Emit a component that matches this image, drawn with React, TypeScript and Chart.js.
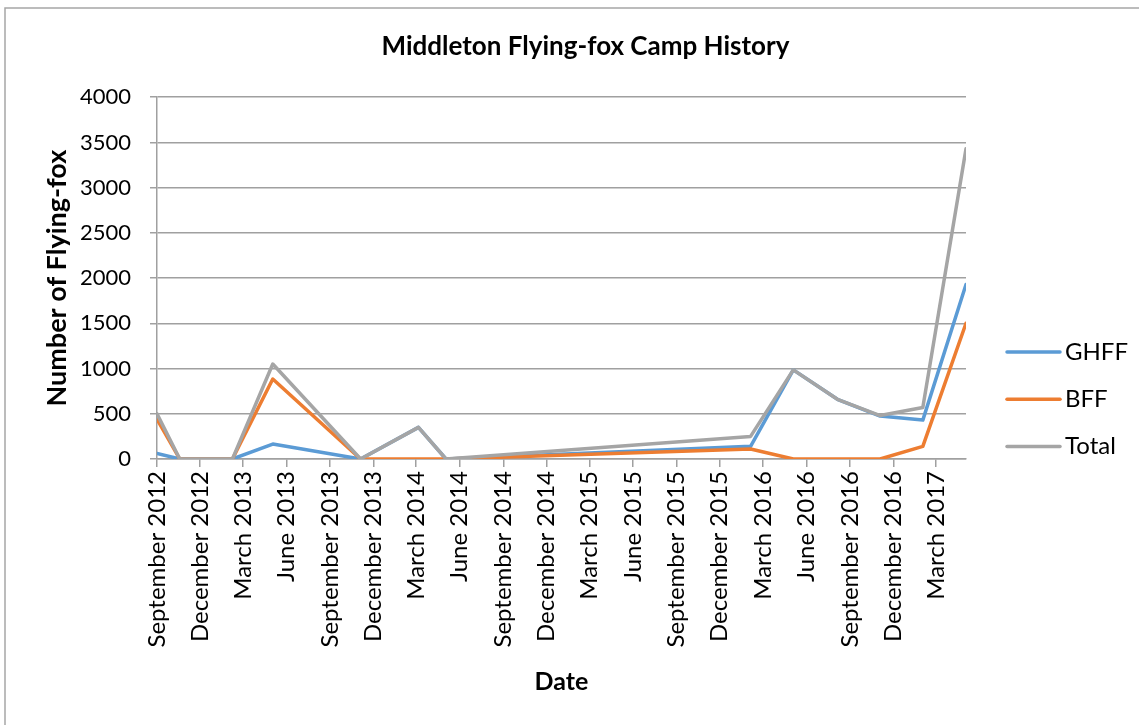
import React, { useEffect, useRef } from "react";
import { Chart, registerables } from "chart.js";

Chart.register(...registerables);

const sampleDates = [
  "2012-09-01", "2012-10-19", "2013-02-07", "2013-05-03", "2013-11-04",
  "2014-03-06", "2014-05-03", "2016-02-04", "2016-05-04", "2016-08-05",
  "2016-11-03", "2017-02-01", "2017-05-03",
];
const ghff = [60, 0, 0, 165, 0, 350, 0, 140, 985, 660, 475, 430, 1930];
const bff = [440, 0, 0, 885, 0, 0, 0, 110, 0, 0, 0, 140, 1500];
const total = [500, 0, 0, 1050, 0, 350, 0, 250, 985, 660, 480, 570, 3430];

const tickDates = [
  "2012-09-01", "2012-12-01", "2013-03-01", "2013-06-01", "2013-09-01",
  "2013-12-01", "2014-03-01", "2014-06-01", "2014-09-01", "2014-12-01",
  "2015-03-01", "2015-06-01", "2015-09-01", "2015-12-01", "2016-03-01",
  "2016-06-01", "2016-09-01", "2016-12-01", "2017-03-01",
];
const tickLabels = [
  "September 2012", "December 2012", "March 2013", "June 2013", "September 2013",
  "December 2013", "March 2014", "June 2014", "September 2014", "December 2014",
  "March 2015", "June 2015", "September 2015", "December 2015", "March 2016",
  "June 2016", "September 2016", "December 2016", "March 2017",
];

const DAY = 86400000;
const origin = Date.UTC(2012, 8, 1);
const toDay = (s: string) => {
  const [y, m, d] = s.split("-").map(Number);
  return Math.round((Date.UTC(y, m - 1, d) - origin) / DAY);
};
const xs = sampleDates.map(toDay);
const tickXs = tickDates.map(toDay);

const FONT = "Lato, 'Open Sans', sans-serif";
const GRID = "#a0a0a0";

export default function App() {
  const ref = useRef<HTMLCanvasElement>(null);
  useEffect(() => {
    if (!ref.current) return;
    const mk = (vals: number[]) => vals.map((v, i) => ({ x: xs[i], y: v }));
    const borderPlugin = {
      id: "outerBorder",
      beforeDraw(chart: any) {
        const c = chart.ctx;
        c.save();
        c.fillStyle = "#ffffff";
        c.fillRect(0, 0, chart.width, chart.height);
        c.strokeStyle = "#a6a6a6";
        c.lineWidth = 1.5;
        c.beginPath();
        c.moveTo(5, chart.height + 5);
        c.lineTo(5, 8);
        c.lineTo(chart.width + 5, 8);
        c.stroke();
        c.restore();
      },
    };
    const legendPlugin = {
      id: "sideLegend",
      afterDraw(chart: any) {
        const c = chart.ctx;
        const area = chart.chartArea;
        const ds = chart.data.datasets;
        const gap = 47.3;
        const midY = 399.3;
        c.save();
        c.font = `24px ${FONT}`;
        c.textBaseline = "middle";
        c.textAlign = "left";
        ds.forEach((d: any, i: number) => {
          const y = midY + (i - (ds.length - 1) / 2) * gap;
          const x0 = area.right + 41;
          c.strokeStyle = d.borderColor;
          c.lineWidth = 3.5;
          c.lineCap = "round";
          c.beginPath();
          c.moveTo(x0, y);
          c.lineTo(x0 + 53, y);
          c.stroke();
          c.fillStyle = "#000";
          c.fillText(d.label, x0 + 58, y);
        });
        c.restore();
      },
    };
    const common = { borderWidth: 3.5, pointRadius: 0, tension: 0, borderCapStyle: "round", borderJoinStyle: "round" };
    const chart = new Chart(ref.current, {
      type: "line",
      data: {
        datasets: [
          { label: "GHFF", data: mk(ghff), borderColor: "#5b9bd5", backgroundColor: "#5b9bd5", order: 3, ...common },
          { label: "BFF", data: mk(bff), borderColor: "#ed7d31", backgroundColor: "#ed7d31", order: 2, ...common },
          { label: "Total", data: mk(total), borderColor: "#a5a5a5", backgroundColor: "#a5a5a5", order: 1, ...common },
        ],
      } as any,
      options: {
        responsive: false,
        animation: false,
        layout: { padding: { left: 32, top: 0, right: 0, bottom: 0 } },
        plugins: {
          title: {
            display: true,
            text: "Middleton Flying-fox Camp History",
            color: "#000",
            font: { family: FONT, size: 26, weight: "bold" },
            padding: { top: 31, bottom: 35 },
          },
          legend: { display: false },
          tooltip: { enabled: false },
        },
        scales: {
          x: {
            type: "linear",
            min: 0,
            max: xs[xs.length - 1],
            afterBuildTicks(axis: any) {
              axis.ticks = tickXs.map((v) => ({ value: v }));
            },
            afterFit(axis: any) {
              axis.height = 266;
            },
            ticks: {
              autoSkip: false,
              maxRotation: 90,
              minRotation: 90,
              padding: 4,
              color: "#000",
              font: { family: FONT, size: 24 },
              callback: (v: any) => {
                const i = tickXs.indexOf(Number(v));
                return i >= 0 ? tickLabels[i] : "";
              },
            },
            grid: { display: true, drawOnChartArea: false, drawTicks: true, tickLength: 8, color: GRID, lineWidth: 1.5 },
            border: { display: true, color: GRID, width: 1.5 },
            title: {
              display: true,
              text: "Date",
              color: "#000",
              font: { family: FONT, size: 25, weight: "bold" },
              padding: { top: 0, bottom: 28 },
            },
          },
          y: {
            min: 0,
            max: 4000,
            afterFit(axis: any) {
              axis.width = 125;
            },
            ticks: {
              stepSize: 500,
              color: "#000",
              font: { family: FONT, size: 22 },
              padding: 19,
              callback: (v: any) => String(v),
            },
            grid: { color: GRID, lineWidth: 1.5, tickLength: 7 },
            border: { display: true, color: GRID, width: 1.5 },
            title: {
              display: true,
              text: "Number of Flying-fox",
              color: "#000",
              font: { family: FONT, size: 27, weight: "bold" },
              padding: { top: 9, bottom: 0 },
            },
          },
          legendSpace: {
            position: "right",
            display: true,
            min: 0,
            max: 1,
            afterFit(axis: any) {
              axis.width = 173;
            },
            ticks: { display: false },
            grid: { display: false, drawTicks: false },
            border: { display: false },
          },
        },
      } as any,
      plugins: [borderPlugin, legendPlugin],
    });
    return () => chart.destroy();
  }, []);
  return (
    <div style={{ position: "fixed", left: 0, top: 0, width: 1139, height: 725, background: "#fff" }}>
      <canvas ref={ref} width={1139} height={725} style={{ display: "block" }} />
    </div>
  );
}
